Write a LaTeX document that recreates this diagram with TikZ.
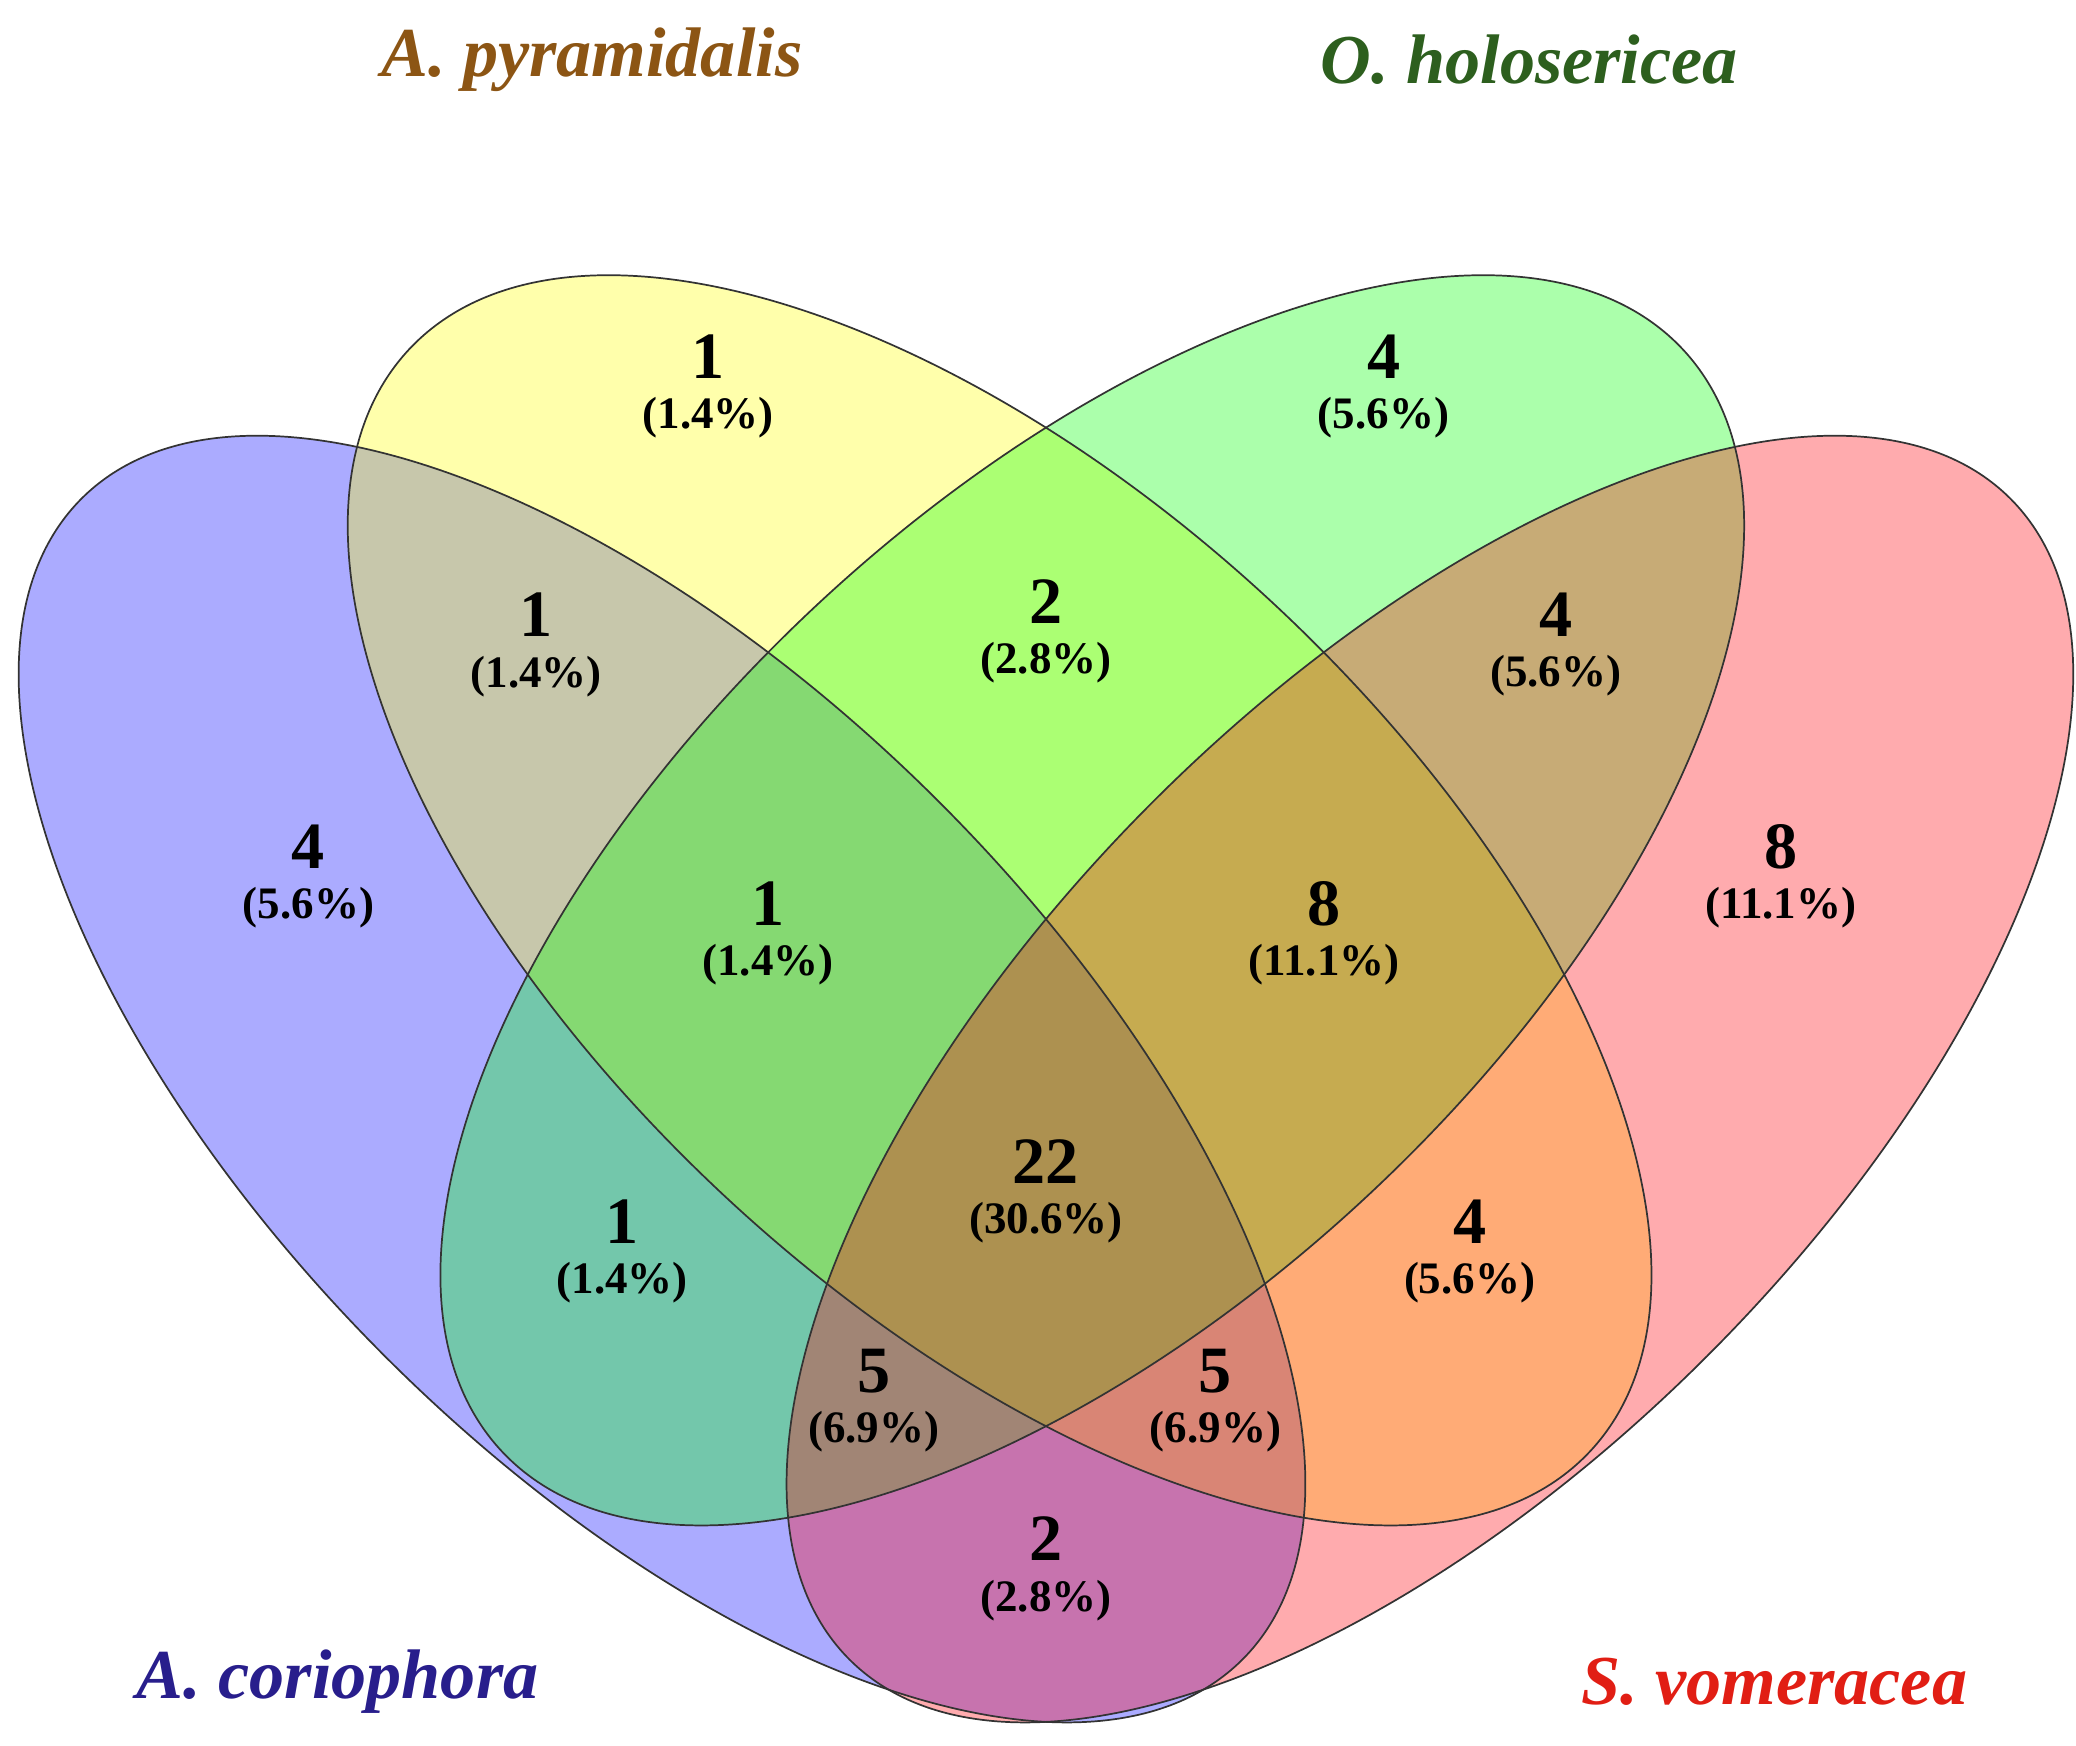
\documentclass[tikz,border=0pt]{standalone}
\usepackage{fontspec}
\setmainfont{Liberation Serif}
\begin{document}
\begin{tikzpicture}[x=1pt,y=-1pt,
  ell/.style={fill opacity=0.33, draw=none},
  edge/.style={draw=black!80, line width=1.3pt},
  lbl/.style={align=center, font=\bfseries\fontsize{34}{36}\selectfont, inner sep=0pt},
  ttl/.style={font=\bfseries\itshape\fontsize{53}{55}\selectfont, inner sep=0pt}]
\useasboundingbox (0,0) rectangle (1568,1318);
\definecolor{cblue}{RGB}{0,0,255}
\definecolor{cyel}{RGB}{255,255,0}
\definecolor{cgrn}{RGB}{0,255,0}
\definecolor{cred}{RGB}{255,0,10}
\definecolor{tbrown}{RGB}{140,85,20}
\definecolor{tgreen}{RGB}{45,95,30}
\definecolor{tblue}{RGB}{40,30,140}
\definecolor{tred}{RGB}{225,30,20}
\newcommand{\bluE}[1]{\path[#1, shift={(500,815)}, rotate=-45] (0,0) ellipse [x radius=620pt, y radius=296pt];}
\newcommand{\redE}[1]{\path[#1, shift={(1080,815)}, rotate=45] (0,0) ellipse [x radius=620pt, y radius=296pt];}
\newcommand{\yelE}[1]{\path[#1, shift={(755,680)}, rotate=-43] (0,0) ellipse [x radius=610pt, y radius=305pt];}
\newcommand{\grnE}[1]{\path[#1, shift={(825,680)}, rotate=43] (0,0) ellipse [x radius=610pt, y radius=305pt];}
\bluE{ell, fill=cblue}
\yelE{ell, fill=cyel}
\grnE{ell, fill=cgrn}
\redE{ell, fill=cred}
\bluE{edge}
\redE{edge}
\yelE{edge}
\grnE{edge}
\newcommand{\vl}[2]{{\fontsize{50}{50}\selectfont #1}\\[2pt]#2}
\node[lbl] (r1) at (535,292) {\vl{1}{(1.4\%)}};
\node[lbl] (r2) at (1045,292) {\vl{4}{(5.6\%)}};
\node[lbl] (r3) at (405,487) {\vl{1}{(1.4\%)}};
\node[lbl] (r4) at (790,477) {\vl{2}{(2.8\%)}};
\node[lbl] (r5) at (1175,487) {\vl{4}{(5.6\%)}};
\node[lbl] (r6) at (233,662) {\vl{4}{(5.6\%)}};
\node[lbl] (r7) at (580,705) {\vl{1}{(1.4\%)}};
\node[lbl] (r8) at (1000,705) {\vl{8}{(11.1\%)}};
\node[lbl] (r9) at (1345,662) {\vl{8}{(11.1\%)}};
\node[lbl] (r10) at (790,900) {\vl{22}{(30.6\%)}};
\node[lbl] (r11) at (470,945) {\vl{1}{(1.4\%)}};
\node[lbl] (r12) at (1110,945) {\vl{4}{(5.6\%)}};
\node[lbl] (r13) at (660,1058) {\vl{5}{(6.9\%)}};
\node[lbl] (r14) at (918,1058) {\vl{5}{(6.9\%)}};
\node[lbl] (r15) at (790,1185) {\vl{2}{(2.8\%)}};
\node[ttl, text=tbrown] (t1) at (447,45) {A. pyramidalis};
\node[ttl, text=tgreen] (t2) at (1155,45) {O. holosericea};
\node[ttl, text=tblue] (t3) at (255,1270) {A. coriophora};
\node[ttl, text=tred] (t4) at (1340,1270) {S. vomeracea};
\end{tikzpicture}
\end{document}
